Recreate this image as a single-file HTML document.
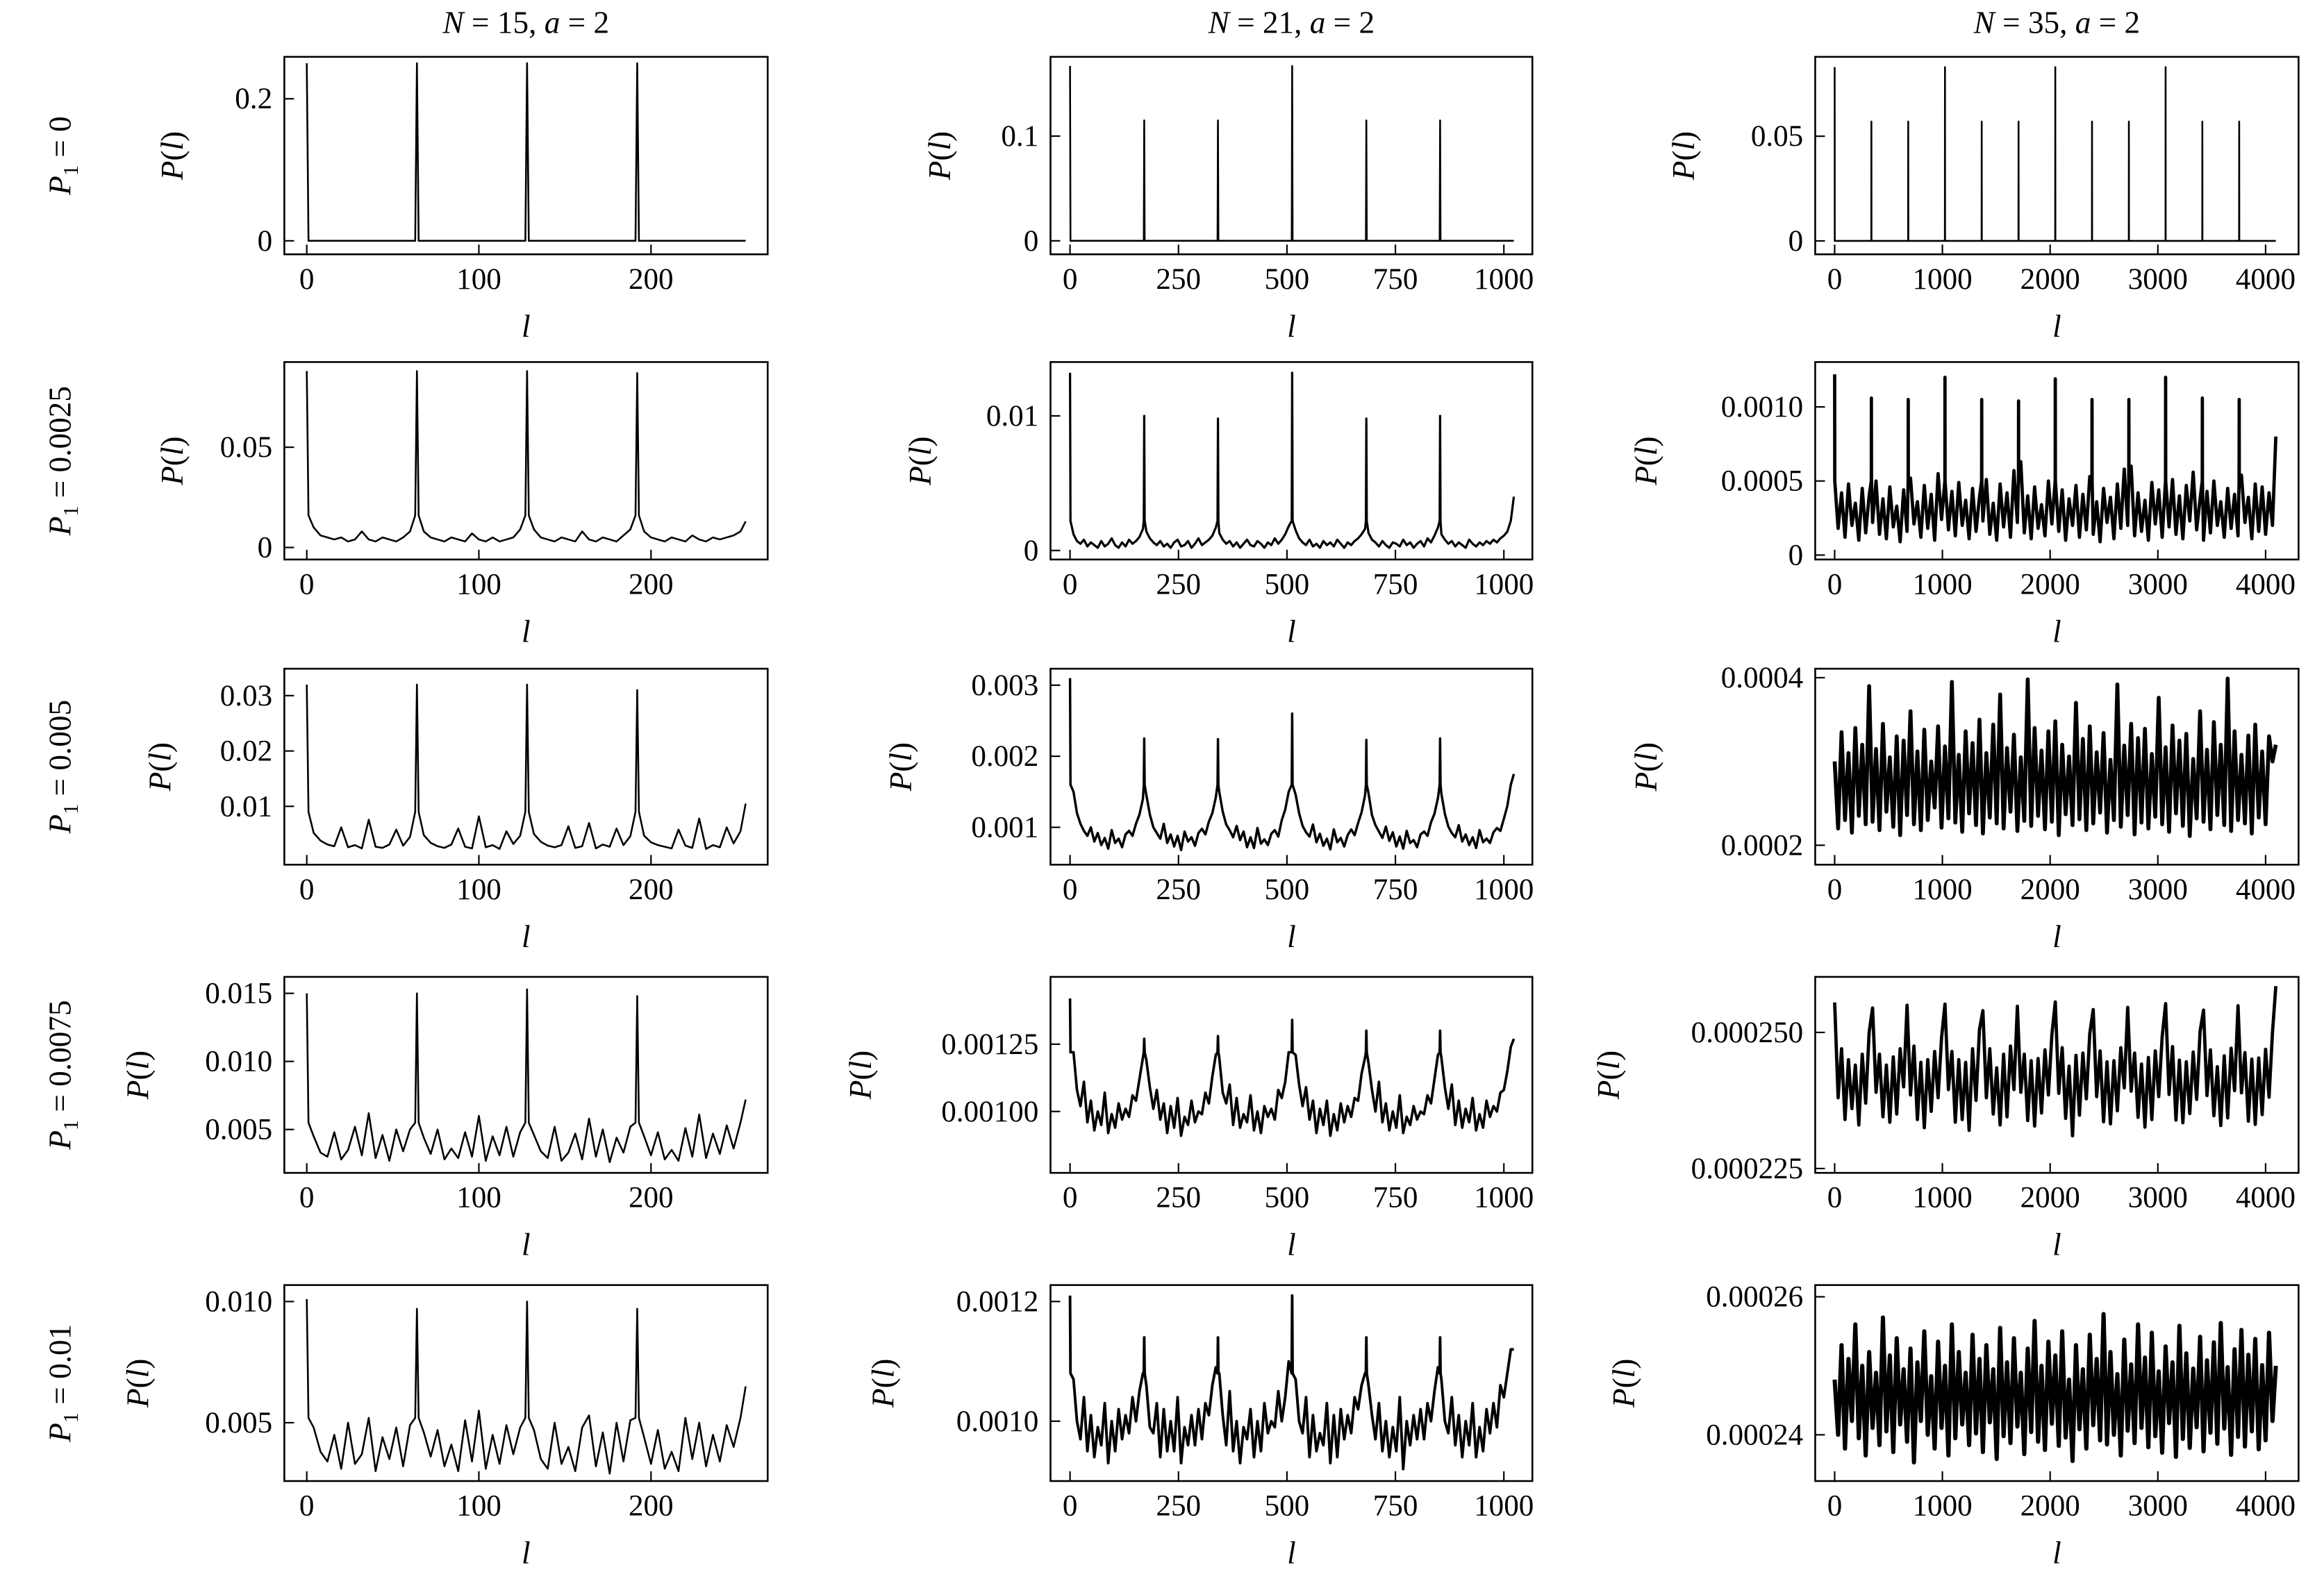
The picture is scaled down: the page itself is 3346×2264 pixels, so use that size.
<!DOCTYPE html>
<html><head><meta charset="utf-8"><title>P(l) spectra grid</title>
<style>
html,body{margin:0;padding:0;background:#fff;}
svg{display:block;}
text{font-family:"Liberation Serif",serif;fill:#000;}
</style></head>
<body>
<svg id="fig" xmlns="http://www.w3.org/2000/svg" width="3346" height="2264" viewBox="0 0 1553 1050.8"></svg>
<script>
// ---------- data arrays ----------
const xTicksC1 = [0, 100, 200];
const xTicksC2 = [0, 250, 500, 750, 1000];
const xTicksC3 = [0, 1000, 2000, 3000, 4000];
const colTitlesN = [15, 21, 35];
const rowP1Labels = ["0", "0.0025", "0.005", "0.0075", "0.01"];

// Row 1 (P1 = 0): pure spikes on a zero baseline
const r1c1PeakL = [0, 64, 128, 192];
const r1c1PeakH = [0.25, 0.25, 0.25, 0.25];
const r1c2PeakL = [0, 171, 341, 512, 683, 853];
const r1c2PeakH = [0.167, 0.115, 0.115, 0.167, 0.115, 0.115];
const r1c3PeakL = [0, 341, 683, 1024, 1365, 1707, 2048, 2389, 2731, 3072, 3413, 3755];
const r1c3PeakH = [0.083, 0.057, 0.057, 0.083, 0.057, 0.057, 0.083, 0.057, 0.057, 0.083, 0.057, 0.057];

// Column 1 baselines (units given per panel), l = 0,4,...,252
const r2c1Base = [20,10,6,5,4,5,3,4,8,4,3,5,4,3,5,8,20,8,5,4,3,5,4,3,7,4,3,5,3,4,5,9,20,9,5,4,3,5,4,3,8,4,3,5,4,3,6,9,20,8,5,4,3,5,4,3,6,4,3,5,4,5,6,8];
const r2c1End = 13;
const r2c1PeakL = [0, 64, 128, 192];
const r2c1PeakH = [0.088, 0.088, 0.088, 0.087];

const r3c1Base = [60,52,38,31,28,62,26,30,24,76,27,25,31,58,29,45,60,48,34,28,25,31,60,27,24,82,26,30,23,55,32,47,60,50,36,29,26,30,64,25,28,70,24,31,27,60,30,46,60,47,35,30,27,24,58,29,25,78,23,30,26,62,33,55];
const r3c1End = 105;
const r3c1PeakL = [0, 64, 128, 192];
const r3c1PeakH = [0.032, 0.032, 0.032, 0.031];

const r4c1Base = [70,45,33,30,48,28,35,52,31,62,29,46,27,50,34,50,70,44,32,50,28,36,29,48,30,60,27,45,31,52,30,48,70,46,34,29,52,27,33,47,28,58,30,50,26,44,33,52,70,45,31,48,28,35,27,51,30,61,29,47,32,53,36,55];
const r4c1End = 72;
const r4c1PeakL = [0, 64, 128, 192];
const r4c1PeakH = [0.0150, 0.0150, 0.0153, 0.0148];

const r5c1Base = [55,48,38,34,45,31,50,33,37,52,30,44,35,48,32,49,55,46,36,47,32,41,30,51,34,55,31,45,33,49,37,48,55,47,35,31,50,33,40,30,48,53,32,46,29,50,34,51,55,44,33,47,31,38,30,52,35,50,32,45,34,49,40,52];
const r5c1End = 65;
const r5c1PeakL = [0, 64, 128, 192];
const r5c1PeakH = [0.0101, 0.0097, 0.0100, 0.0097];

// Column 2 baselines, l = 0,8,...,1016
const r2c2Base = [30,12,7,5,8,3,6,4,2,7,3,5,9,4,2,6,3,8,5,7,10,16,14,9,6,4,7,3,5,2,6,8,3,4,7,2,5,9,4,6,8,11,17,13,8,5,7,3,6,2,5,8,4,3,7,5,2,6,4,9,5,8,12,18,20,15,9,6,4,8,3,5,2,7,4,6,3,8,5,2,6,4,7,9,12,16,13,8,6,3,7,4,2,6,5,3,8,4,6,2,5,7,3,9,6,11,17,12,8,5,7,3,6,4,2,8,5,3,6,4,7,5,8,6,9,11,14,22];
const r2c2End = 40;
const r2c2PeakL = [0, 171, 341, 512, 683, 853];
const r2c2PeakH = [0.0132, 0.0100, 0.0098, 0.0132, 0.0098, 0.0100];

const r3c2Base = [160,150,120,105,95,88,100,80,92,75,85,70,96,78,84,72,90,95,88,105,118,140,145,118,100,92,84,105,78,90,73,88,68,94,80,86,74,92,98,90,108,120,142,150,122,104,96,86,102,82,94,72,86,71,99,77,83,75,91,96,87,110,125,150,160,146,120,102,93,87,104,79,91,74,84,69,97,79,85,73,89,97,89,106,121,145,148,117,103,94,85,101,81,93,73,87,70,95,78,82,72,90,94,88,107,119,141,147,119,101,92,86,103,80,90,75,86,71,96,79,84,78,93,99,95,112,130,160];
const r3c2End = 175;
const r3c2PeakL = [0, 171, 341, 512, 683, 853];
const r3c2PeakH = [0.0031, 0.00225, 0.00224, 0.0026, 0.00223, 0.00225];

const r4c2Base = [130,122,108,102,111,96,104,93,100,95,107,92,99,94,103,97,101,98,106,104,112,120,119,109,101,108,97,103,92,102,94,105,91,98,95,104,96,100,99,107,103,113,121,120,107,103,110,95,105,94,99,96,106,93,100,92,102,98,101,97,108,105,111,122,125,121,110,102,109,97,104,92,101,95,104,91,99,93,103,96,102,98,105,104,114,120,118,108,100,111,96,103,93,100,94,106,92,98,95,102,97,100,99,106,103,112,121,120,109,101,110,95,104,94,101,96,105,93,99,94,104,98,102,100,107,108,115,124];
const r4c2End = 127;
const r4c2PeakL = [0, 171, 341, 512, 683, 853];
const r4c2PeakH = [0.00142, 0.00127, 0.00128, 0.00134, 0.00130, 0.00130];

const r5c2Base = [112,107,100,97,104,95,101,94,99,96,103,93,100,95,102,97,101,98,104,100,105,108,106,99,98,103,94,102,95,100,95,104,93,99,96,101,96,102,97,103,101,106,109,108,101,96,105,95,100,93,99,97,102,94,100,95,103,98,100,99,105,100,104,110,112,107,100,98,104,94,101,95,98,96,103,93,101,94,102,97,101,98,104,102,106,108,106,101,97,103,95,100,94,99,95,104,92,100,96,101,97,102,97,103,100,105,109,107,100,98,104,96,101,94,100,96,103,94,99,95,102,98,103,99,106,104,108,112];
const r5c2End = 112;
const r5c2PeakL = [0, 171, 341, 512, 683, 853];
const r5c2PeakH = [0.00121, 0.00114, 0.00114, 0.00121, 0.00114, 0.00114];

// Column 3 baselines, l = 0,32,...,4064
const r2c3Base = [60,18,42,12,48,20,35,10,45,15,40,22,50,14,38,11,46,19,33,9,44,16,52,21,36,12,47,18,41,10,55,24,60,17,43,13,49,20,37,11,45,16,39,23,51,14,35,10,48,19,42,12,57,22,63,15,40,11,46,18,34,13,50,21,62,16,44,10,38,20,47,12,41,17,53,14,36,9,45,22,39,11,48,18,58,20,60,13,42,16,37,10,49,21,44,12,35,19,51,14,40,11,47,23,56,17,38,10,43,15,50,20,36,12,45,18,41,13,54,22,39,11,48,16,46,14,42,20];
const r2c3End = 80;
const r2c3PeakL = [0, 341, 683, 1024, 1365, 1707, 2048, 2389, 2731, 3072, 3413, 3755];
const r2c3PeakH = [0.00122, 0.00106, 0.00105, 0.00120, 0.00105, 0.00104, 0.00119, 0.00105, 0.00105, 0.00120, 0.00106, 0.00105];

const r3c3Base = [300,220,335,230,310,215,340,235,320,225,390,228,315,218,345,240,305,222,330,212,325,236,360,225,312,218,338,230,300,245,342,221,318,232,395,227,308,216,336,238,322,224,350,214,310,233,344,226,380,220,316,240,332,217,305,229,398,223,340,235,313,219,336,228,348,212,320,237,306,224,370,231,327,218,342,226,311,239,334,215,302,230,392,222,319,236,345,213,328,227,339,220,309,234,376,225,317,216,343,238,325,223,333,211,303,232,360,228,314,219,347,236,320,224,399,217,336,230,308,226,331,214,344,233,312,225,330,300];
const r3c3End = 320;

const r4c3Base = [2555,2380,2470,2340,2450,2360,2440,2330,2460,2370,2500,2545,2390,2460,2345,2440,2335,2455,2350,2470,2400,2550,2385,2475,2340,2445,2325,2450,2355,2465,2380,2490,2552,2395,2465,2335,2450,2340,2445,2320,2470,2375,2505,2540,2380,2470,2350,2435,2330,2460,2345,2475,2395,2548,2390,2460,2338,2448,2328,2452,2352,2468,2385,2495,2556,2388,2472,2342,2438,2310,2458,2348,2462,2378,2498,2542,2382,2466,2336,2446,2332,2448,2356,2472,2398,2546,2392,2462,2344,2442,2326,2454,2340,2466,2382,2492,2553,2386,2474,2339,2449,2334,2446,2351,2464,2377,2502,2541,2384,2468,2347,2437,2329,2457,2343,2471,2393,2549,2389,2463,2337,2451,2331,2453,2349,2469,2381,2500];
const r4c3End = 2585;

const r5c3Base = [2480,2400,2530,2380,2510,2420,2560,2395,2500,2370,2520,2410,2490,2385,2570,2405,2515,2375,2540,2415,2495,2390,2525,2360,2505,2420,2550,2400,2485,2380,2535,2410,2500,2370,2560,2395,2520,2415,2490,2385,2545,2402,2510,2375,2530,2418,2495,2365,2555,2398,2505,2388,2540,2412,2490,2372,2525,2404,2565,2390,2500,2378,2535,2416,2515,2384,2550,2396,2480,2362,2530,2408,2495,2380,2545,2414,2510,2392,2575,2386,2520,2400,2488,2370,2538,2406,2502,2388,2560,2410,2512,2382,2548,2398,2492,2374,2528,2417,2505,2368,2558,2394,2518,2381,2496,2411,2542,2376,2508,2403,2534,2387,2562,2409,2498,2371,2524,2397,2552,2383,2516,2405,2539,2379,2501,2392,2548,2420];
const r5c3End = 2500;

// ---------- layout ----------
const NS = "http://www.w3.org/2000/svg";
const svg = document.getElementById("fig");
const colBox = [[190,513],[702,1024],[1213,1536]];
const rowBox = [[38,170],[242,374],[447,578],[653,784],[859,990]];
const colXlim = [[-13.04,267.8],[-45,1065.7],[-180.6,4306]];
const colLmax = [255,1023,4095];
const colStep = [4,8,32];
const colXTicks = [xTicksC1, xTicksC2, xTicksC3];

function mk(tag, attrs, parent){
  const e = document.createElementNS(NS, tag);
  for (const k in attrs) e.setAttribute(k, attrs[k]);
  (parent||svg).appendChild(e);
  return e;
}

const panels = [
 {r:0,c:0,ylim:[-0.019,0.259],yt:[0,0.2],ytl:["0","0.2"],base:null,unit:1,end:0,pl:r1c1PeakL,ph:r1c1PeakH,sh:0,ylx:115,sw:1.2},
 {r:0,c:1,ylim:[-0.0129,0.1757],yt:[0,0.1],ytl:["0","0.1"],base:null,unit:1,end:0,pl:r1c2PeakL,ph:r1c2PeakH,sh:0,ylx:628,sw:1.2},
 {r:0,c:2,ylim:[-0.0064,0.0879],yt:[0,0.05],ytl:["0","0.05"],base:null,unit:1,end:0,pl:r1c3PeakL,ph:r1c3PeakH,sh:0,ylx:1125,sw:1.2},
 {r:1,c:0,ylim:[-0.006,0.0925],yt:[0,0.05],ytl:["0","0.05"],base:r2c1Base,unit:1e-3,end:r2c1End,pl:r2c1PeakL,ph:r2c1PeakH,sh:0.016,ylx:115,sw:1.2},
 {r:1,c:1,ylim:[-0.00067,0.014],yt:[0,0.01],ytl:["0","0.01"],base:r2c2Base,unit:1e-4,end:r2c2End,pl:r2c2PeakL,ph:r2c2PeakH,sh:0.0022,ylx:615,sw:1.5},
 {r:1,c:2,ylim:[-0.00003,0.001303],yt:[0,0.0005,0.001],ytl:["0","0.0005","0.0010"],base:r2c3Base,unit:1e-5,end:r2c3End,pl:r2c3PeakL,ph:r2c3PeakH,sh:0.0005,ylx:1100,sw:2.2},
 {r:2,c:0,ylim:[-0.00054,0.03486],yt:[0.01,0.02,0.03],ytl:["0.01","0.02","0.03"],base:r3c1Base,unit:1e-4,end:r3c1End,pl:r3c1PeakL,ph:r3c1PeakH,sh:0.009,ylx:107,sw:1.2},
 {r:2,c:1,ylim:[0.000474,0.003232],yt:[0.001,0.002,0.003],ytl:["0.001","0.002","0.003"],base:r3c2Base,unit:1e-5,end:r3c2End,pl:r3c2PeakL,ph:r3c2PeakH,sh:0.0016,ylx:602,sw:1.6},
 {r:2,c:2,ylim:[0.0001768,0.0004107],yt:[0.0002,0.0004],ytl:["0.0002","0.0004"],base:r3c3Base,unit:1e-6,end:r3c3End,pl:[],ph:[],sh:0,ylx:1100,sw:2.6},
 {r:3,c:0,ylim:[0.001813,0.016209],yt:[0.005,0.010,0.015],ytl:["0.005","0.010","0.015"],base:r4c1Base,unit:1e-4,end:r4c1End,pl:r4c1PeakL,ph:r4c1PeakH,sh:0.0055,ylx:92,sw:1.2},
 {r:3,c:1,ylim:[0.000772,0.0015],yt:[0.001,0.00125],ytl:["0.00100","0.00125"],base:r4c2Base,unit:1e-5,end:r4c2End,pl:r4c2PeakL,ph:r4c2PeakH,sh:0.00122,ylx:575,sw:1.7},
 {r:3,c:2,ylim:[0.0002242,0.0002602],yt:[0.000225,0.00025],ytl:["0.000225","0.000250"],base:r4c3Base,unit:1e-7,end:r4c3End,pl:[],ph:[],sh:0,ylx:1075,sw:2.2},
 {r:4,c:0,ylim:[0.002593,0.010679],yt:[0.005,0.010],ytl:["0.005","0.010"],base:r5c1Base,unit:1e-4,end:r5c1End,pl:r5c1PeakL,ph:r5c1PeakH,sh:0.0052,ylx:92,sw:1.2},
 {r:4,c:1,ylim:[0.0009,0.0012275],yt:[0.001,0.0012],ytl:["0.0010","0.0012"],base:r5c2Base,unit:1e-5,end:r5c2End,pl:r5c2PeakL,ph:r5c2PeakH,sh:0.00108,ylx:590,sw:1.8},
 {r:4,c:2,ylim:[0.0002333,0.0002617],yt:[0.00024,0.00026],ytl:["0.00024","0.00026"],base:r5c3Base,unit:1e-7,end:r5c3End,pl:[],ph:[],sh:0,ylx:1085,sw:2.8}
];

function buildPoints(p){
  const lmax = colLmax[p.c], step = colStep[p.c];
  let pts = [];
  if (p.base){
    p.base.forEach((v,i)=>pts.push([i*step, v*p.unit]));
    pts.push([lmax, p.end*p.unit]);
  } else {
    pts.push([0,0]); pts.push([lmax,0]);
  }
  p.pl.forEach((pos,i)=>{
    pts = pts.filter(q=>Math.abs(q[0]-pos)>1.5);
    if (pos-1>=0) pts.push([pos-1, p.sh]);
    pts.push([pos, p.ph[i]]);
    pts.push([pos+1, p.sh]);
  });
  pts.sort((a,b)=>a[0]-b[0]);
  return pts;
}

panels.forEach(p=>{
  const [L,R] = colBox[p.c], [T,B] = rowBox[p.r];
  const [x0,x1] = colXlim[p.c], [y0,y1] = p.ylim;
  const xs = v => L + (v-x0)/(x1-x0)*(R-L);
  const ys = v => B - (v-y0)/(y1-y0)*(B-T);
  const g = mk("g",{});
  
  
  const clipId = "clip"+p.r+p.c;
  const cp = mk("clipPath",{id:clipId},g);
  mk("rect",{x:L,y:T,width:R-L,height:B-T},cp);
  const pts = buildPoints(p);
  const d = pts.map((q,i)=>(i?"L":"M")+xs(q[0]).toFixed(2)+" "+ys(q[1]).toFixed(2)).join("");
  const path = mk("path",{d:d,fill:"none",stroke:"#000","stroke-width":p.sw,"stroke-linejoin":"round","clip-path":"url(#"+clipId+")"},g);
  
  
  const fr = mk("rect",{x:L,y:T,width:R-L,height:B-T,fill:"none",stroke:"#000","stroke-width":1.2},g);
  
  
  colXTicks[p.c].forEach(t=>{
    const x = xs(t);
    const tk = mk("line",{x1:x,x2:x,y1:B,y2:B-6.5,stroke:"#000","stroke-width":1},g);
    
    
    const tl = mk("text",{x:x,y:B+23,"font-size":20,"text-anchor":"middle"},g);
    tl.textContent = String(t);
    
    
  });
  p.yt.forEach((t,i)=>{
    const y = ys(t);
    const tk = mk("line",{x1:L,x2:L+6.5,y1:y,y2:y,stroke:"#000","stroke-width":1},g);
    
    
    const tl = mk("text",{x:L-8,y:y+6.5,"font-size":20,"text-anchor":"end"},g);
    tl.textContent = p.ytl[i];
    
    
  });
  const xl = mk("text",{x:(L+R)/2,y:B+55,"font-size":21,"text-anchor":"middle","font-style":"italic"},g);
  xl.textContent = "l";
  
  
  const cy = (T+B)/2;
  const yl = mk("text",{x:p.ylx,y:cy,"font-size":21,"text-anchor":"middle",transform:"rotate(-90 "+p.ylx+" "+cy+")"},g);
  
  
  yl.innerHTML = '<tspan font-style="italic">P</tspan>(<tspan font-style="italic">l</tspan>)';
  yl.setAttribute('dy','7');
});

colTitlesN.forEach((n,i)=>{
  const cx = (colBox[i][0]+colBox[i][1])/2;
  const t = mk("text",{x:cx,y:22,"font-size":21,"text-anchor":"middle"});
  t.innerHTML = '<tspan font-style="italic">N</tspan> = '+n+', <tspan font-style="italic">a</tspan> = 2';
  
  
});
rowP1Labels.forEach((lab,i)=>{
  const cy = (rowBox[i][0]+rowBox[i][1])/2;
  const t = mk("text",{x:40,y:cy,"font-size":21,"text-anchor":"middle",transform:"rotate(-90 40 "+cy+")",dy:"7"});
  t.innerHTML = '<tspan font-style="italic">P</tspan><tspan font-size="14" dy="5">1</tspan><tspan dy="-5"> = '+lab+'</tspan>';
  
  
});
</script>
</body></html>
